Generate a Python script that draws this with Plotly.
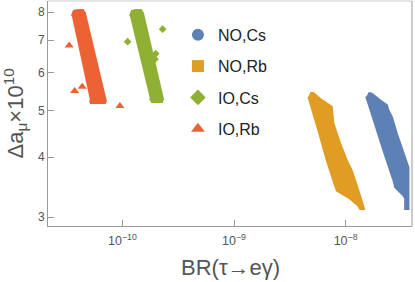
import plotly.graph_objects as go

# ---- data ----
series_names = ["NO,Cs", "NO,Rb", "IO,Cs", "IO,Rb"]
series_colors = ["#5E81B5", "#E19C24", "#8FB032", "#EB6235"]
series_symbols = ["circle", "square", "diamond", "triangle-up"]

# outlines of the dense point clouds (BR(tau->e gamma), Delta a_mu x 10^10)
no_cs_br = [1.601e-8, 1.718e-8, 2.038e-8, 2.342e-8, 2.421e-8, 2.596e-8, 2.878e-8, 3.300e-8,
            3.540e-8, 3.658e-8, 3.658e-8, 3.418e-8, 3.418e-8, 3.300e-8, 2.780e-8, 2.684e-8,
            2.183e-8, 1.839e-8, 1.601e-8, 1.527e-8]
no_cs_da = [5.44, 5.42, 5.25, 5.13, 5.01, 4.85, 4.48, 4.07,
            3.88, 3.81, 3.12, 3.12, 3.28, 3.33, 3.465, 3.58,
            4.13, 4.70, 5.17, 5.34]

no_rb_br = [4.80e-9, 5.14e-9, 5.91e-9, 7.26e-9, 7.52e-9, 7.77e-9, 8.93e-9, 1.025e-8,
            1.136e-8, 1.302e-8, 1.444e-8, 1.465e-8, 1.349e-8, 1.302e-8, 1.098e-8, 8.34e-9,
            8.05e-9, 6.78e-9, 5.70e-9, 4.80e-9, 4.64e-9]
no_rb_da = [5.44, 5.44, 5.29, 5.13, 5.09, 4.70, 4.27, 3.94,
            3.75, 3.41, 3.17, 3.12, 3.12, 3.17, 3.28, 3.41,
            3.49, 3.94, 4.55, 5.17, 5.34]

io_cs_br = [1.167e-10, 1.216e-10, 1.321e-10, 1.466e-10, 1.528e-10, 2.31e-10, 2.26e-10,
            1.84e-10, 1.76e-10]
io_cs_da = [7.86, 8.05, 8.09, 8.09, 7.97, 5.28, 5.21, 5.21, 5.30]

io_rb_br = [3.52e-11, 3.67e-11, 3.99e-11, 4.43e-11, 4.61e-11, 7.11e-11, 6.97e-11,
            5.21e-11, 5.12e-11]
io_rb_da = [7.86, 8.05, 8.09, 8.09, 7.97, 5.23, 5.18, 5.18, 5.25]

# isolated points
io_cs_pts_br = [1.113e-10, 2.293e-10, 1.986e-10, 1.956e-10]
io_cs_pts_da = [6.95, 7.38, 6.56, 6.39]
io_rb_pts_br = [3.33e-11, 3.73e-11, 4.36e-11, 9.50e-11]
io_rb_pts_da = [6.82, 5.49, 5.60, 5.11]

x_tickvals = [1e-10, 1e-9, 1e-8]
x_ticktext = ["10<sup>\u221210</sup>", "10<sup>\u22129</sup>", "10<sup>\u22128</sup>"]
y_tickvals = [3, 4, 5, 6, 7, 8]
y_ticktext = ["3", "4", "5", "6", "7", "8"]

x_range_log = [-10.667, -7.405]
y_range_log = [0.459, 0.9265]

FONT = "Liberation Sans, Arial, sans-serif"
GRAY_TXT = "#555555"

fig = go.Figure()

bands = [
    (no_cs_br, no_cs_da, series_colors[0]),
    (no_rb_br, no_rb_da, series_colors[1]),
    (io_cs_br, io_cs_da, series_colors[2]),
    (io_rb_br, io_rb_da, series_colors[3]),
]
for bx, by, col in bands:
    fig.add_trace(go.Scatter(x=bx, y=by, mode="lines", fill="toself", fillcolor=col,
                             line=dict(color=col, width=2), showlegend=False,
                             hoverinfo="skip"))

fig.add_trace(go.Scatter(x=io_cs_pts_br, y=io_cs_pts_da, mode="markers",
                         marker=dict(symbol="diamond", size=6, color=series_colors[2]),
                         showlegend=False))
fig.add_trace(go.Scatter(x=io_rb_pts_br, y=io_rb_pts_da, mode="markers",
                         marker=dict(symbol="triangle-up", size=8, color=series_colors[3]),
                         showlegend=False))

leg_sizes = [10, 10, 11, 12]
for name, col, sym, sz in zip(series_names, series_colors, series_symbols, leg_sizes):
    fig.add_trace(go.Scatter(x=[None], y=[None], mode="markers", name=name,
                             legendgroup=name,
                             marker=dict(symbol=sym, size=sz, color=col)))

fig.update_layout(
    width=415, height=282,
    margin=dict(l=48, r=3, t=1, b=56),
    paper_bgcolor="white", plot_bgcolor="white",
    font=dict(family=FONT, color=GRAY_TXT),
    legend=dict(x=0.357, y=0.925, xanchor="left", yanchor="top",
                font=dict(size=16, color="#222222", family=FONT),
                tracegroupgap=7.5, bgcolor="rgba(0,0,0,0)", itemsizing="constant"),
    xaxis=dict(type="log", range=x_range_log, tickvals=x_tickvals, ticktext=x_ticktext,
               ticks="inside", ticklen=6, tickcolor="#999999", showgrid=False,
               zeroline=False, showline=True, linecolor="#999999", linewidth=1,
               mirror=False, ticklabelstandoff=3,
               tickfont=dict(size=12.5, color=GRAY_TXT)),
    yaxis=dict(type="log", range=y_range_log, tickvals=y_tickvals, ticktext=y_ticktext,
               ticks="inside", ticklen=6, tickcolor="#999999", showgrid=False,
               zeroline=False, showline=True, linecolor="#999999", linewidth=1,
               mirror=False, tickfont=dict(size=12, color=GRAY_TXT)),
    shapes=[
        dict(type="line", xref="paper", yref="paper", x0=0, x1=1, y0=1, y1=1,
             line=dict(color="#cccccc", width=1)),
        dict(type="line", xref="paper", yref="paper", x0=1, x1=1, y0=0, y1=1,
             line=dict(color="#999999", width=1)),
    ],
    annotations=[
        dict(text="BR(\u03c4\u2192e\u03b3)", xref="paper", yref="paper", x=0.5, y=0,
             xanchor="center", yanchor="middle", yshift=-41, showarrow=False,
             font=dict(size=22, color=GRAY_TXT, family=FONT)),
        dict(text="\u0394a<sub>\u03bc</sub>\u00d710<sup>10</sup>", xref="paper", yref="paper",
             x=0, y=0.5, xanchor="center", yanchor="middle", xshift=-33, textangle=-90,
             showarrow=False, font=dict(size=22, color=GRAY_TXT, family=FONT)),
    ],
)

fig.write_html("out.html", config={"displayModeBar": False},
               post_script="document.body.style.margin='0';")
